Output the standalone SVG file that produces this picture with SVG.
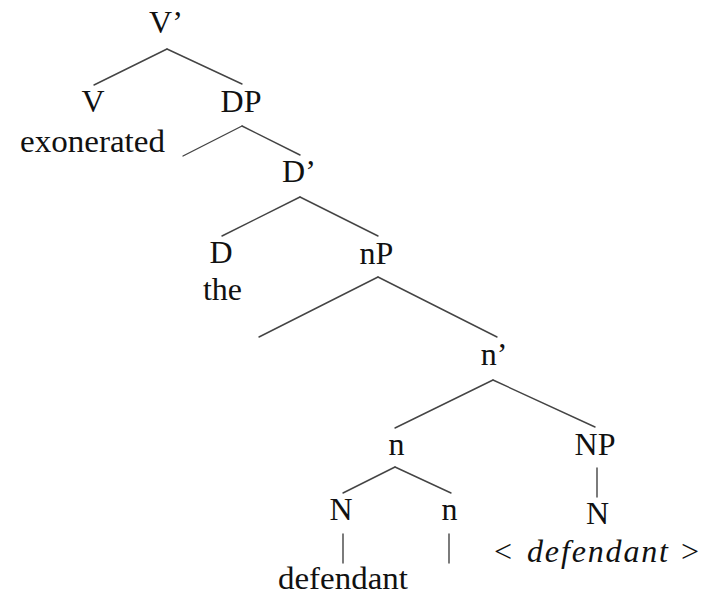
<svg xmlns="http://www.w3.org/2000/svg" width="712" height="596" viewBox="0 0 712 596">
  <style>
    .edge { stroke: #444; stroke-width: 1.4; fill: none; stroke-linecap: round; }
    .lbl { font-family: "Liberation Serif", serif; font-size: 32px; fill: #111; text-anchor: middle; }
    .it { font-style: italic; }
  </style>
  <rect width="712" height="596" fill="#ffffff"/>

  <!-- tree branches -->
  <g id="connectors">
    <line class="edge" x1="167" y1="49" x2="94" y2="85"/>
    <line class="edge" x1="167" y1="49" x2="242" y2="84"/>
    <line class="edge" x1="242" y1="126" x2="183" y2="156"/>
    <line class="edge" x1="242" y1="126" x2="300" y2="155"/>
    <line class="edge" x1="300" y1="197" x2="222" y2="236"/>
    <line class="edge" x1="300" y1="197" x2="378" y2="236"/>
    <line class="edge" x1="378" y1="277" x2="259" y2="337"/>
    <line class="edge" x1="378" y1="277" x2="497" y2="337"/>
    <line class="edge" x1="493" y1="380" x2="395" y2="428"/>
    <line class="edge" x1="493" y1="380" x2="595" y2="427"/>
    <line class="edge" x1="395" y1="467" x2="343" y2="493"/>
    <line class="edge" x1="395" y1="467" x2="451" y2="493"/>
    <line class="edge" x1="597" y1="468" x2="597" y2="497"/>
    <line class="edge" x1="343" y1="534" x2="343" y2="563"/>
    <line class="edge" x1="449" y1="534" x2="449" y2="563"/>
  </g>

  <!-- node labels -->
  <g id="node-vbar"><text class="lbl" x="166" y="33">V’</text></g>
  <g id="node-v"><text class="lbl" x="93" y="112">V</text></g>
  <g id="word-exonerated"><text class="lbl" x="92.5" y="152" textLength="145" lengthAdjust="spacingAndGlyphs">exonerated</text></g>
  <g id="node-dp"><text class="lbl" x="241" y="112">DP</text></g>
  <g id="node-dbar"><text class="lbl" x="299" y="182">D’</text></g>
  <g id="node-d"><text class="lbl" x="221" y="263">D</text></g>
  <g id="word-the"><text class="lbl" x="222.5" y="300" textLength="39" lengthAdjust="spacingAndGlyphs">the</text></g>
  <g id="node-np-small"><text class="lbl" x="376.5" y="264">nP</text></g>
  <g id="node-nbar"><text class="lbl" x="494" y="365">n’</text></g>
  <g id="node-n"><text class="lbl" x="396.5" y="455">n</text></g>
  <g id="node-NP"><text class="lbl" x="595" y="455">NP</text></g>
  <g id="node-N-left"><text class="lbl" x="341" y="520">N</text></g>
  <g id="node-n-head"><text class="lbl" x="449.5" y="520">n</text></g>
  <g id="node-N-right"><text class="lbl" x="597.5" y="524">N</text></g>
  <g id="word-defendant"><text class="lbl" x="343" y="589" textLength="130" lengthAdjust="spacingAndGlyphs">defendant</text></g>
  <g id="word-trace">
    <text class="lbl" x="503" y="562">&lt;</text>
    <text class="lbl it" x="597.5" y="562" textLength="141" lengthAdjust="spacing">defendant</text>
    <text class="lbl" x="690" y="562">&gt;</text>
  </g>
</svg>
